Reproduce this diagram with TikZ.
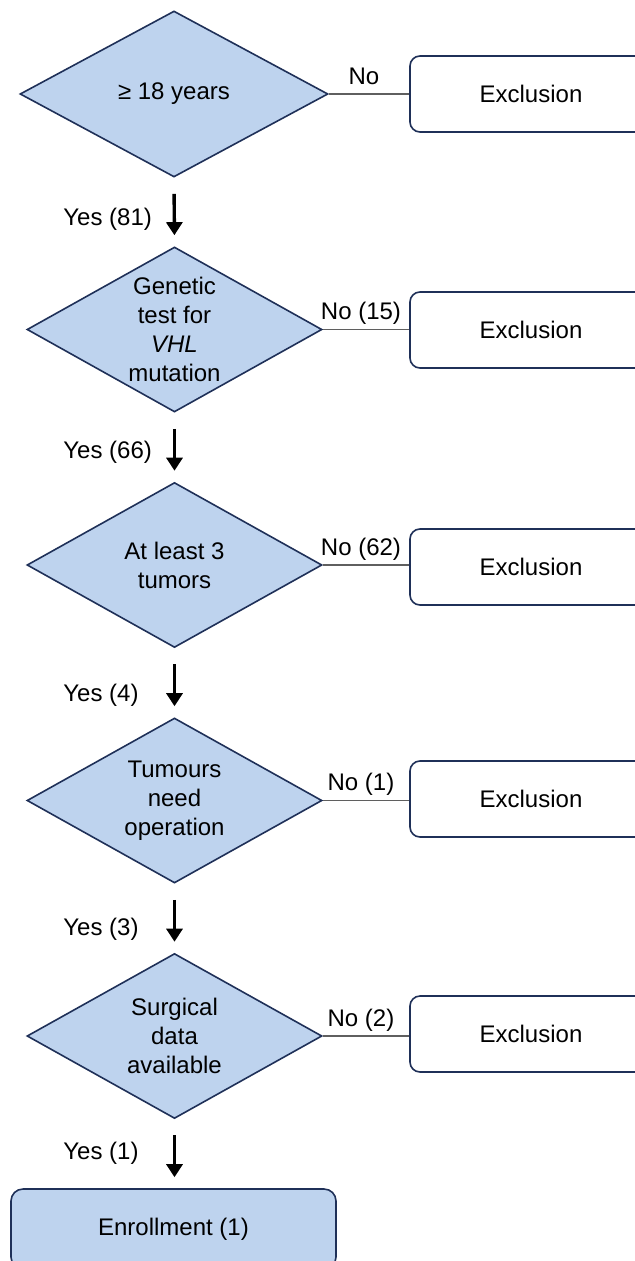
\documentclass[tikz,border=0pt]{standalone}
\usepackage{fontspec}
\setmainfont{Liberation Sans}
\usetikzlibrary{shapes.geometric,arrows.meta}
\definecolor{boxblue}{RGB}{190,211,238}
\definecolor{edgeblue}{RGB}{31,48,88}
\definecolor{linegray}{RGB}{95,95,95}
\tikzset{
  txt/.style={font=\fontsize{12}{14.5}\selectfont},
  decision/.style={txt, diamond, draw=edgeblue, line width=0.8pt, fill=boxblue, aspect=1.8, inner sep=0pt, align=center, minimum width=147.5pt, minimum height=82.5pt},
  exclbox/.style={txt, rectangle, rounded corners=5pt, draw=edgeblue, line width=0.8pt, fill=white, minimum width=121pt, minimum height=38pt},
  enrollbox/.style={txt, rectangle, rounded corners=6pt, draw=edgeblue, line width=0.8pt, fill=boxblue, minimum width=162.5pt, minimum height=40pt},
  yesarrow/.style={-{Triangle[length=6.5pt,width=8pt]}, line width=1.7pt, black, shorten <=8pt, shorten >=5.5pt},
  noline/.style={draw=linegray, line width=0.6pt},
  nolbl/.style={txt, midway, above=2pt, xshift=-2.5pt, inner sep=0pt, text depth=2.6pt},
  yeslbl/.style={txt, anchor=west, inner sep=0pt}
}
\begin{document}
\begin{tikzpicture}[x=0.5pt,y=-0.5pt]
\clip (0,0) rectangle (635,1261);
\node[decision, minimum width=154pt, minimum height=83pt] (age) at (174,94) {≥ 18 years};
\node[decision] (gene) at (174.5,329.5) {Genetic\\test for\\\textit{VHL}\\mutation};
\node[decision] (tumor) at (174.5,565) {At least 3\\tumors};
\node[decision] (oper) at (174.5,800.5) {Tumours\\need\\operation};
\node[decision] (surg) at (174.5,1036) {Surgical\\data\\available};
\node[enrollbox] (enrol) at (173.5,1229) {Enrollment (1)};

\node[exclbox] (ex1) at (531,94) {Exclusion};
\node[exclbox] (ex2) at (531,330) {Exclusion};
\node[exclbox] (ex3) at (531,567) {Exclusion};
\node[exclbox] (ex4) at (531,799) {Exclusion};
\node[exclbox] (ex5) at (531,1034) {Exclusion};

\draw[noline] (age.east) -- node[nolbl] {No} (age.east -| ex1.west);
\draw[noline] (gene.east) -- node[nolbl] {No (15)} (gene.east -| ex2.west);
\draw[noline] (tumor.east) -- node[nolbl] {No (62)} (tumor.east -| ex3.west);
\draw[noline] (oper.east) -- node[nolbl] {No (1)} (oper.east -| ex4.west);
\draw[noline] (surg.east) -- node[nolbl] {No (2)} (surg.east -| ex5.west);

\draw[yesarrow] (age.south) -- (gene.north);
\draw[yesarrow] (gene.south) -- (tumor.north);
\draw[yesarrow] (tumor.south) -- (oper.north);
\draw[yesarrow] (oper.south) -- (surg.north);
\draw[yesarrow] (surg.south) -- (enrol.north -| surg.south);

\node[yeslbl] (y1) at (63,219) {Yes (81)};
\node[yeslbl] (y2) at (63,452) {Yes (66)};
\node[yeslbl] (y3) at (63,695) {Yes (4)};
\node[yeslbl] (y4) at (63,929) {Yes (3)};
\node[yeslbl] (y5) at (63,1153) {Yes (1)};
\end{tikzpicture}
\end{document}
